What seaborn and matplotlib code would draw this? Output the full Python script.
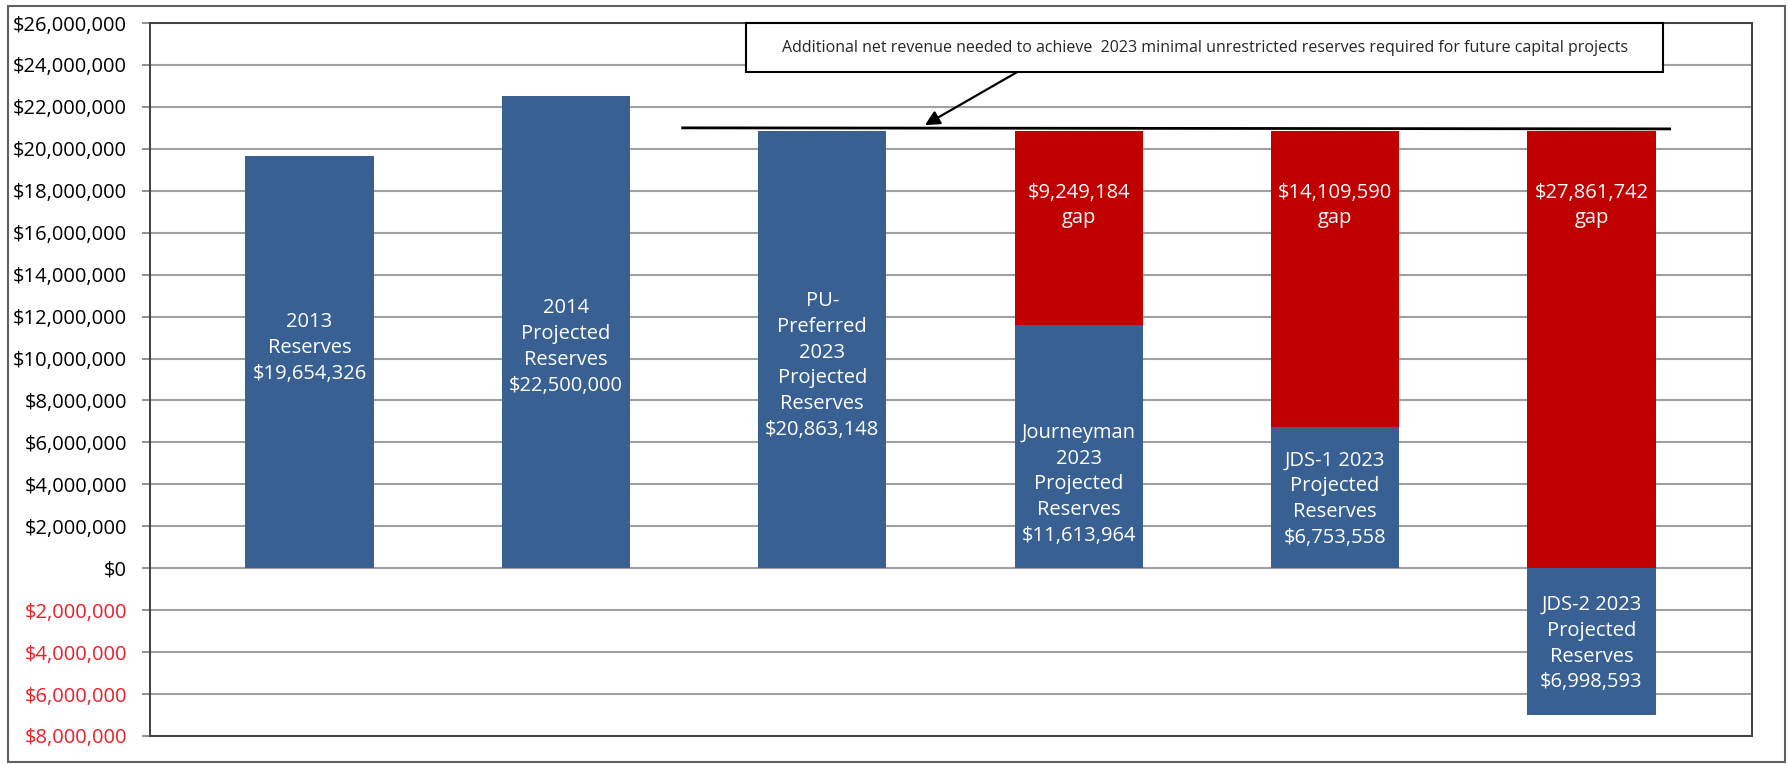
import matplotlib
matplotlib.use("Agg")
import matplotlib.pyplot as plt
import seaborn as sns
import pandas as pd
import numpy as np
from matplotlib.patches import Rectangle

# ---------------- data ----------------
categories = ["2013 Reserves", "2014 Projected Reserves", "PU-Preferred 2023",
              "Journeyman 2023", "JDS-1 2023", "JDS-2 2023"]
reserves = [19654326, 22500000, 20863148, 11613964, 6753558, -6998593]
gaps = [0, 0, 0, 9249184, 14109590, 27861742]
reserve_labels = [
    "2013\nReserves\n$19,654,326",
    "2014\nProjected\nReserves\n$22,500,000",
    "PU-\nPreferred\n2023\nProjected\nReserves\n$20,863,148",
    "Journeyman\n2023\nProjected\nReserves\n$11,613,964",
    "JDS-1 2023\nProjected\nReserves\n$6,753,558",
    "JDS-2 2023\nProjected\nReserves\n$6,998,593",
]
gap_labels = ["", "", "", "$9,249,184\ngap", "$14,109,590\ngap", "$27,861,742\ngap"]
reserve_label_y = [10.5e6, 10.55e6, 9.67e6, 4.0e6, 3.3e6, -3.6e6]
gap_label_y = 17.3e6
target_line_x = [1.45, 5.31]
target_line_y = [21.0e6, 20.95e6]
yticks = list(range(-8_000_000, 26_000_001, 2_000_000))
annotation_text = ("Additional net revenue needed to achieve  2023 minimal "
                   "unrestricted reserves required for future capital projects")

BLUE = "#386092"
RED = "#C00000"

df = pd.DataFrame({
    "category": categories,
    "reserve": reserves,
    "gap_top": [r + g if g > 0 else 0 for r, g in zip(reserves, gaps)],
})

# ---------------- figure ----------------
sns.set_style("white")
plt.rcParams["font.family"] = ["Open Sans", "DejaVu Sans"]

W, H = 1787, 764
fig = plt.figure(figsize=(W / 100, H / 100), dpi=100)
ax = fig.add_axes([150 / W, (H - 736) / H, (1752 - 150) / W, (736 - 23) / H])

sns.barplot(data=df, x="category", y="gap_top", color=RED, saturation=1,
            width=0.5, linewidth=0, ax=ax, zorder=2)
sns.barplot(data=df, x="category", y="reserve", color=BLUE, saturation=1,
            width=0.5, linewidth=0, ax=ax, zorder=3)

ax.set_xlim(-0.622, 5.626)
ax.set_ylim(-8_000_000, 26_000_000)
ax.set_xticks([])
ax.set_xlabel("")
ax.set_ylabel("")
ax.set_yticks(yticks)
ax.set_yticklabels([f"${abs(v):,.0f}" for v in yticks], fontsize=14.5)
for lab, v in zip(ax.get_yticklabels(), yticks):
    lab.set_color("#E8202A" if v < 0 else "black")
ax.tick_params(axis="y", length=6, width=1.2, color="#7f7f7f",
               direction="out", pad=10.5, left=True)
ax.yaxis.grid(True, color="#a0a0a0", lw=1.5)
ax.set_axisbelow(True)
for s in ax.spines.values():
    s.set_color("#404040")
    s.set_linewidth(1.4)

# labels in bars
for i, (txt, y) in enumerate(zip(reserve_labels, reserve_label_y)):
    ax.text(i, y, txt, ha="center", va="center", color="white",
            fontsize=14.5, linespacing=1.38, zorder=6)
for i, txt in enumerate(gap_labels):
    if txt:
        ax.text(i, gap_label_y, txt, ha="center", va="center", color="white",
                fontsize=14.5, linespacing=1.38, zorder=6)

# target line
ax.plot(target_line_x, target_line_y, color="black", lw=2, zorder=7,
        solid_capstyle="butt")

# annotation box
bx0, bx1 = 1.703, 5.279
by0, by1 = 23.66e6, 26.0e6
ax.add_patch(Rectangle((bx0, by0), bx1 - bx0, by1 - by0, facecolor="white",
                       edgecolor="black", lw=1.5, zorder=8, clip_on=False))
ax.text((bx0 + bx1) / 2, (by0 + by1) / 2, annotation_text, ha="center",
        va="center", fontsize=11.5, zorder=9,
        family=["Liberation Sans Narrow", "Open Sans", "DejaVu Sans"])
ax.annotate("", xy=(2.40, 21.13e6), xytext=(2.76, 23.66e6),
            arrowprops=dict(arrowstyle="-|>", color="black", lw=1.6,
                            mutation_scale=22, shrinkA=0, shrinkB=0),
            zorder=9)

# outer frame
fig.add_artist(Rectangle((8 / W, 2 / H), (1785 - 8) / W, (758 - 2) / H,
                         transform=fig.transFigure, fill=False,
                         edgecolor="#606060", lw=1.5))

fig.savefig("out.png", dpi=100, facecolor="white")
